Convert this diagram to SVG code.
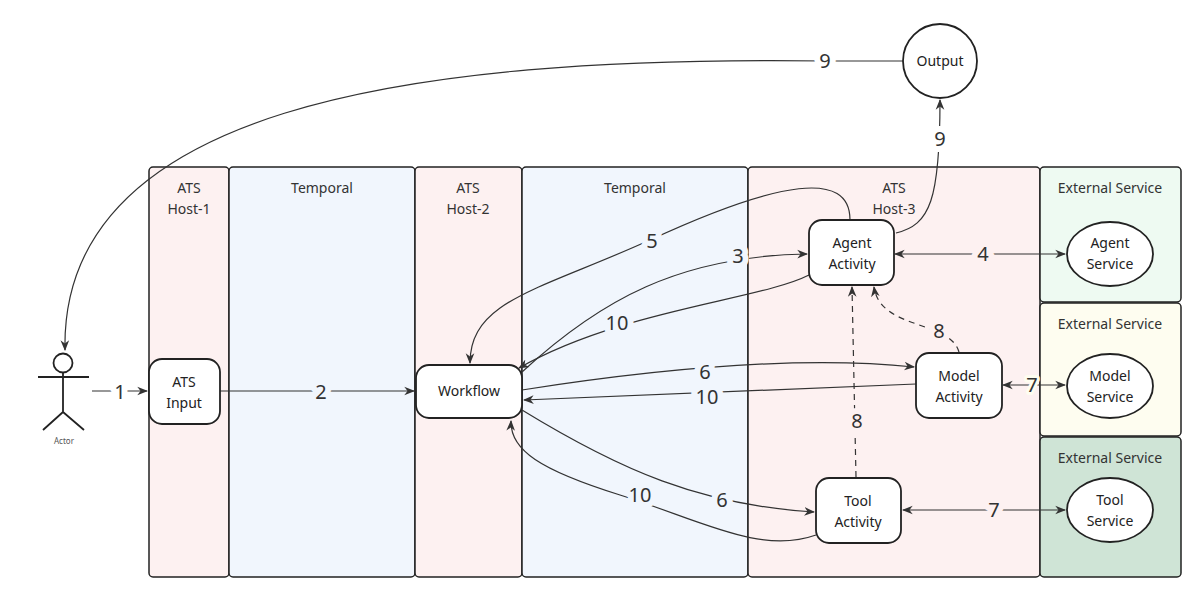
<svg xmlns="http://www.w3.org/2000/svg" width="1200" height="600" viewBox="0 0 1200 600">
<style>
text{font-family:"Noto Sans","Open Sans",sans-serif;fill:#222;text-anchor:middle}
.lt{font-size:14px;fill:#333}
.nt{font-size:14px}
.el{font-size:20px;fill:#333;paint-order:stroke;stroke-width:12px;stroke-linejoin:round}
.lane{stroke:#222;stroke-width:1.5}
.node{fill:#fff;stroke:#222;stroke-width:1.8}
.c{fill:none;stroke:#333;stroke-width:1.2}
.d{stroke-dasharray:6 5}
</style>
<defs>
<marker id="a" viewBox="0 0 10 10" refX="9" refY="5" markerWidth="9" markerHeight="9" orient="auto-start-reverse"><path d="M0,1 L10,5 L0,9 L3,5 Z" fill="#333"/></marker>
</defs>
<g id="lanes">
<rect class="lane" x="149" y="167" width="80" height="410" rx="4" fill="#fdf1f1"/>
<rect class="lane" x="229" y="167" width="186" height="410" rx="4" fill="#f1f6fd"/>
<rect class="lane" x="415" y="167" width="107" height="410" rx="4" fill="#fdf1f1"/>
<rect class="lane" x="522" y="167" width="226" height="410" rx="4" fill="#f1f6fd"/>
<rect class="lane" x="748" y="167" width="292" height="410" rx="4" fill="#fdf1f1"/>
<rect class="lane" x="1040" y="167" width="141" height="135" rx="4" fill="#eefaf2"/>
<rect class="lane" x="1040" y="303" width="141" height="133" rx="4" fill="#fefdf0"/>
<rect class="lane" x="1040" y="437" width="141" height="140" rx="4" fill="#cfe4d6"/>
<text class="lt" x="189" y="193">ATS</text><text class="lt" x="189" y="214">Host-1</text>
<text class="lt" x="322" y="193">Temporal</text>
<text class="lt" x="468" y="193">ATS</text><text class="lt" x="468" y="214">Host-2</text>
<text class="lt" x="635" y="193">Temporal</text>
<text class="lt" x="894" y="193">ATS</text><text class="lt" x="894" y="214">Host-3</text>
<text class="lt" x="1110" y="193">External Service</text>
<text class="lt" x="1110" y="329">External Service</text>
<text class="lt" x="1110" y="463">External Service</text>
</g>
<g id="connectors">
<path class="c" d="M92,391 L147,391" marker-end="url(#a)"/>
<path class="c" d="M220,391 L414,391" marker-end="url(#a)"/>
<path class="c" d="M522,372 C600,300 680,256 807,254" marker-end="url(#a)"/>
<path class="c" d="M850,220 C850,170 780,180 650,240 C540,290 470,300 470,363" marker-end="url(#a)"/>
<path class="c" d="M809,275 C760,300 620,310 519,368" marker-end="url(#a)"/>
<path class="c" d="M522,390 C650,370 800,355 914,367" marker-end="url(#a)"/>
<path class="c" d="M916,384 L524,400" marker-end="url(#a)"/>
<path class="c" d="M522,410 C620,470 700,505 814,512" marker-end="url(#a)"/>
<path class="c" d="M816,535 C760,555 700,520 620,495 C540,470 510,450 511,421" marker-end="url(#a)"/>
<path class="c" d="M895,254 L1065,254" marker-start="url(#a)" marker-end="url(#a)"/>
<path class="c" d="M1003,385 L1065,385" marker-start="url(#a)" marker-end="url(#a)"/>
<path class="c" d="M903,510 L1065,510" marker-start="url(#a)" marker-end="url(#a)"/>
<path class="c d" d="M856,477 L852,287" marker-end="url(#a)"/>
<path class="c d" d="M959,352 C950,320 880,330 874,287" marker-end="url(#a)"/>
<path class="c" d="M896,233 C930,225 940,200 940,100" marker-end="url(#a)"/>
<path class="c" d="M903,61 L830,61 C400,55 60,110 65,350" marker-end="url(#a)"/>
<text class="el" x="120" y="399" stroke="#fff">1</text>
<text class="el" x="321" y="399" stroke="#f1f6fd">2</text>
<text class="el" x="738" y="263" stroke="#f1f6fd">3</text>
<text class="el" x="652" y="248" stroke="#f1f6fd">5</text>
<text class="el" x="617" y="330" stroke="#f1f6fd">10</text>
<text class="el" x="705" y="379" stroke="#f1f6fd">6</text>
<text class="el" x="707" y="404" stroke="#f1f6fd">10</text>
<text class="el" x="722" y="507" stroke="#f1f6fd">6</text>
<text class="el" x="640" y="502" stroke="#f1f6fd">10</text>
<text class="el" x="983" y="261" stroke="#fdf1f1">4</text>
<text class="el" x="1032" y="392" stroke="#fefdf0" style="stroke-width:6px">7</text>
<text class="el" x="994" y="517" stroke="#fdf1f1">7</text>
<text class="el" x="857" y="428" stroke="#fdf1f1">8</text>
<text class="el" x="939" y="338" stroke="#fdf1f1">8</text>
<text class="el" x="940" y="146" stroke="#fff">9</text>
<text class="el" x="825" y="68" stroke="#fff">9</text>
</g>
<g id="actor">
<g stroke="#222" stroke-width="1.8" fill="none">
<circle cx="63" cy="363" r="9.5" fill="#fff"/>
<path d="M63,373 L63,412 M38,377 L89,377 M43,430 L63,412 L84,430"/>
</g>
<text x="64" y="444" style="font-size:8px;fill:#555">Actor</text>
</g>
<g id="ats-input"><rect class="node" x="149" y="359" width="71" height="65" rx="13"/><text class="nt" x="184" y="387">ATS</text><text class="nt" x="184" y="408">Input</text></g>
<g id="workflow"><rect class="node" x="416" y="365" width="106" height="53" rx="13"/><text class="nt" x="469" y="396">Workflow</text></g>
<g id="agent-activity"><rect class="node" x="809" y="220" width="85" height="65" rx="13"/><text class="nt" x="852" y="248">Agent</text><text class="nt" x="852" y="269">Activity</text></g>
<g id="model-activity"><rect class="node" x="916" y="353" width="86" height="65" rx="13"/><text class="nt" x="959" y="381">Model</text><text class="nt" x="959" y="402">Activity</text></g>
<g id="tool-activity"><rect class="node" x="816" y="478" width="85" height="65" rx="13"/><text class="nt" x="858" y="506">Tool</text><text class="nt" x="858" y="527">Activity</text></g>
<g id="agent-service"><ellipse class="node" cx="1110" cy="254" rx="43" ry="32"/><text class="nt" x="1110" y="248">Agent</text><text class="nt" x="1110" y="269">Service</text></g>
<g id="model-service"><ellipse class="node" cx="1110" cy="386" rx="43" ry="32"/><text class="nt" x="1110" y="381">Model</text><text class="nt" x="1110" y="402">Service</text></g>
<g id="tool-service"><ellipse class="node" cx="1110" cy="510" rx="43" ry="32"/><text class="nt" x="1110" y="505">Tool</text><text class="nt" x="1110" y="526">Service</text></g>
<g id="output"><circle class="node" cx="940" cy="61" r="37"/><text class="nt" x="940" y="66">Output</text></g>
</svg>
